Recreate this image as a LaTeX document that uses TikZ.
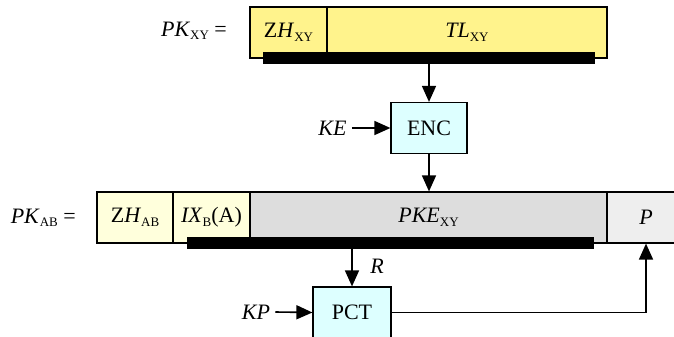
\documentclass[tikz,border=0pt]{standalone}
\usepackage{fontspec}
\setmainfont{Liberation Serif}
\usetikzlibrary{arrows.meta}
\newcommand\subs[1]{\raisebox{-3.5pt}{\fontsize{13}{13}\selectfont #1}}
\definecolor{ytop}{HTML}{FFF38C}
\definecolor{ylight}{HTML}{FFFFDC}
\definecolor{gcell}{HTML}{DDDDDD}
\definecolor{gpad}{HTML}{EEEEEE}
\definecolor{cbox}{HTML}{DDFFFF}
\tikzset{
  cell/.style={draw=black, line width=1.2pt, minimum height=51pt, inner sep=0pt, font=\fontsize{22}{26}\selectfont},
  func/.style={cell, fill=cbox},
  bar/.style={fill=black, inner sep=0pt, minimum height=12pt},
  lbl/.style={inner sep=2pt, font=\fontsize{22}{26}\selectfont},
  arr/.style={line width=1.6pt, -{Triangle[length=16pt,width=14pt]}},
}
\begin{document}
\begin{tikzpicture}[x=1pt,y=-1pt]
\useasboundingbox (0,0) rectangle (674,337);
\clip (0,0) rectangle (674,337);
% top row
\node[cell, fill=ytop, minimum width=77pt] (zhxy) at (288.5,32.5) {Z\textit{H}\subs{XY}};
\node[cell, fill=ytop, minimum width=280pt] (tlxy) at (467,32.5) {\textit{TL}\subs{XY}};
\node[bar, minimum width=332pt] (bar1) at (429,58) {};
\node[lbl, anchor=east] (pkxy) at (229,31) {\textit{PK}\subs{XY} =};
% ENC
\node[func, minimum width=76pt] (enc) at (429,128) {ENC};
\node[lbl] (ke) at (332.5,128) {\textit{KE}};
\draw[arr] ([xshift=3pt]ke.east) -- (enc.west);
\draw[arr] (bar1.south -| enc.north) -- (enc.north);
% second row
\node[cell, fill=ylight, minimum width=76pt] (zhab) at (135,217.5) {Z\textit{H}\subs{AB}};
\node[cell, fill=ylight, minimum width=77pt] (ix) at (211.5,217.5) {\textit{IX}\subs{B}(A)};
\node[cell, fill=gcell, minimum width=357pt] (pke) at (428.5,217.5) {\textit{PKE}\subs{XY}};
\node[cell, fill=gpad, minimum width=78pt] (p) at (646,217.5) {\textit{P}};
\node[bar, minimum width=407pt] (bar2) at (390.5,243) {};
\node[lbl, anchor=east] (pkab) at (78,218) {\textit{PK}\subs{AB} =};
\draw[arr] (enc.south) -- (enc.south |- pke.north);
% PCT
\node[func, minimum width=78pt] (pct) at (352,312.5) {PCT};
\node[lbl] (kp) at (256,312) {\textit{KP}};
\node[lbl] (r) at (377,266) {\textit{R}};
\draw[arr] (bar2.south -| pct.north) -- (pct.north);
\draw[arr] ([xshift=3pt]kp.east) -- (pct.west);
\draw[arr] (pct.east) -- (pct.east -| p.south) -- (p.south);
\end{tikzpicture}
\end{document}
